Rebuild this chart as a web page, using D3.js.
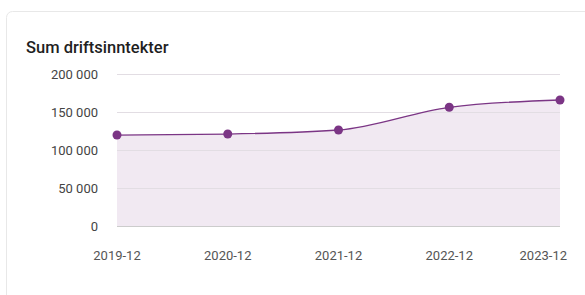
<!DOCTYPE html>
<html>
<head>
<meta charset="utf-8">
<script src="https://cdn.jsdelivr.net/npm/d3@7"></script>
<style>
  html, body { margin: 0; padding: 0; background: #fff; }
  svg { display: block; font-family: Roboto, sans-serif; }
</style>
</head>
<body>
<svg></svg>
<script>
const periods = ['2019-12', '2020-12', '2021-12', '2022-12', '2023-12']
const values = [119700, 121000, 126300, 156200, 165800]
const yTicks = [0, 50000, 100000, 150000, 200000]
const title = 'Sum driftsinntekter'

const width = 585
const height = 295
const margin = { top: 74, right: 25, bottom: 69, left: 117 }

const svg = d3.select('svg')
  .attr('width', width)
  .attr('height', height)

// card
svg.append('rect')
  .attr('x', 6.5).attr('y', 11.5)
  .attr('width', 620).attr('height', 320)
  .attr('rx', 6)
  .attr('fill', '#fff')
  .attr('stroke', '#e8e8e8')

svg.append('text')
  .attr('x', 26).attr('y', 53)
  .attr('font-size', 16.5)
  .attr('font-weight', 500)
  .attr('fill', '#1f1f1f')
  .text(title)

const x = d3.scalePoint().domain(periods).range([margin.left, width - margin.right])
const y = d3.scaleLinear().domain([0, 200000]).range([height - margin.bottom, margin.top])

const fmt = (d) => d3.format(',')(d).replace(/,/g, ' ')

const data = periods.map((p, i) => ({ p, v: values[i] }))

const area = d3.area()
  .x((d) => x(d.p))
  .y0(y(0))
  .y1((d) => y(d.v))
  .curve(d3.curveMonotoneX)

const line = d3.line()
  .x((d) => x(d.p))
  .y((d) => y(d.v))
  .curve(d3.curveMonotoneX)

svg.append('path')
  .datum(data)
  .attr('d', area)
  .attr('fill', '#f1e9f2')

// grid lines
svg.append('g')
  .selectAll('line')
  .data(yTicks)
  .enter().append('line')
  .attr('x1', margin.left).attr('x2', width - margin.right)
  .attr('y1', (d) => y(d) + 0.5).attr('y2', (d) => y(d) + 0.5)
  .attr('stroke', (d) => d === 0 ? '#cccccc' : '#e2dde3')

// y labels
svg.append('g')
  .selectAll('text')
  .data(yTicks)
  .enter().append('text')
  .attr('x', 98)
  .attr('y', (d) => y(d))
  .attr('dy', '0.36em')
  .attr('text-anchor', 'end')
  .attr('font-size', 13)
  .attr('fill', '#444')
  .text(fmt)

svg.append('path')
  .datum(data)
  .attr('d', line)
  .attr('fill', 'none')
  .attr('stroke', '#7b3585')
  .attr('stroke-width', 1.3)

svg.append('g')
  .selectAll('circle')
  .data(data)
  .enter().append('circle')
  .attr('cx', (d) => x(d.p))
  .attr('cy', (d) => y(d.v))
  .attr('r', 4.5)
  .attr('fill', '#7b3585')

// x labels, kept inside the right edge
const xl = svg.append('g')
  .selectAll('text')
  .data(periods)
  .enter().append('text')
  .attr('y', 260)
  .attr('font-size', 13)
  .attr('fill', '#555')
  .text((d) => d)

xl.each(function (d) {
  const w = this.getComputedTextLength()
  let left = x(d) - w / 2
  if (left + w > 567) left = 567 - w
  d3.select(this).attr('x', left)
})
</script>
</body>
</html>
